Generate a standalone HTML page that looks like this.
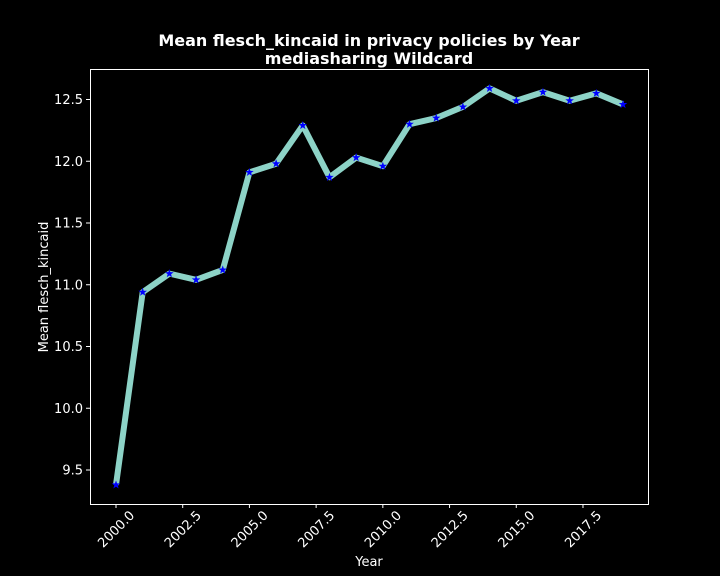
<!DOCTYPE html>
<html><head><meta charset="utf-8"><style>
html,body{margin:0;padding:0;background:#000;}
svg{display:block;font-family:"DejaVu Sans","Liberation Sans",sans-serif;}
</style></head><body>
<svg id="chart" width="720" height="576" viewBox="0 0 720 576">
<rect width="720" height="576" fill="#000"/>
<text x="369" y="46" fill="#fff" font-size="16" font-weight="bold" text-anchor="middle">Mean flesch_kincaid in privacy policies by Year</text>
<text x="369" y="64" fill="#fff" font-size="16" font-weight="bold" text-anchor="middle">mediasharing Wildcard</text>
<rect x="90.5" y="69.5" width="558" height="435" fill="none" stroke="#fff" stroke-width="1"/>
<g id="xt"></g><g id="yt"></g><g id="series"></g>
<text x="369" y="566" fill="#fff" font-size="13" text-anchor="middle">Year</text>
<text transform="translate(48,287) rotate(-90)" fill="#fff" font-size="13" text-anchor="middle">Mean flesch_kincaid</text>
</svg>
<script>
const years=[2000,2001,2002,2003,2004,2005,2006,2007,2008,2009,2010,2011,2012,2013,2014,2015,2016,2017,2018,2019];
const values=[9.38,10.94,11.09,11.04,11.12,11.91,11.98,12.29,11.87,12.03,11.96,12.30,12.35,12.44,12.59,12.49,12.56,12.49,12.55,12.46];
const xTicks=[2000,2002.5,2005,2007.5,2010,2012.5,2015,2017.5];
const xTickLabels=["2000.0","2002.5","2005.0","2007.5","2010.0","2012.5","2015.0","2017.5"];
const yTicks=[9.5,10,10.5,11,11.5,12,12.5];
const yTickLabels=["9.5","10.0","10.5","11.0","11.5","12.0","12.5"];
const NS="http://www.w3.org/2000/svg";
function xs(v){return 116+(v-2000)*(507/19);}
function ys(v){return 470-(v-9.5)*123.5;}
function mk(t,a,p){const e=document.createElementNS(NS,t);for(const k in a)e.setAttribute(k,a[k]);p.appendChild(e);return e;}
const xt=document.getElementById('xt'),yt=document.getElementById('yt'),sg=document.getElementById('series');
xTicks.forEach((v,i)=>{const x=xs(v);
 const l=mk('line',{x1:x,x2:x,y1:504,y2:508,stroke:'#fff'},xt);
 
 
 const t=mk('text',{x:0,y:4.5,fill:'#fff','font-size':13,'text-anchor':'middle',transform:`translate(${x},${529}) rotate(-45)`},xt);
 t.textContent=xTickLabels[i];
 
 
});
yTicks.forEach((v,i)=>{const y=ys(v);
 const l=mk('line',{x1:86,x2:90,y1:y,y2:y,stroke:'#fff'},yt);
 
 
 const t=mk('text',{x:83,y:y+4.5,fill:'#fff','font-size':13,'text-anchor':'end'},yt);
 t.textContent=yTickLabels[i];
 
 
});
const pts=years.map((y,i)=>xs(y)+','+ys(values[i])).join(' ');
const pl=mk('polyline',{points:pts,fill:'none',stroke:'#8dd3c7','stroke-width':6,'stroke-linejoin':'round'},sg);


function star(cx,cy,r){let p=[];for(let k=0;k<10;k++){const a=-Math.PI/2+k*Math.PI/5;const rr=k%2?r*0.4:r;p.push((cx+rr*Math.cos(a)).toFixed(2)+','+(cy+rr*Math.sin(a)).toFixed(2));}return p.join(' ');}
years.forEach((y,i)=>{
 const s=mk('polygon',{points:star(xs(y),ys(values[i]),4.5),fill:'#0000ff'},sg);
 
 
});
</script>
</body></html>
